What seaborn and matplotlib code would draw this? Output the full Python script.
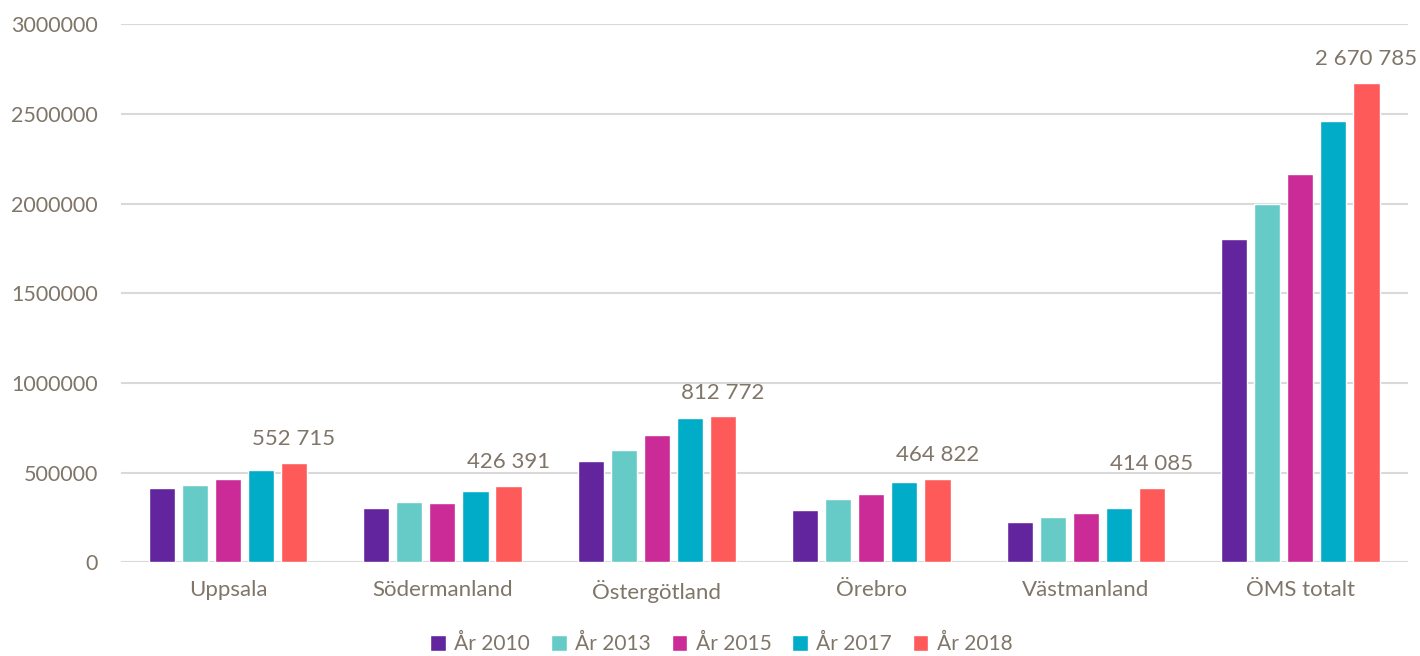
import pandas as pd
import seaborn as sns
import matplotlib.pyplot as plt

# Data
regions = ["Uppsala", "Södermanland", "Östergötland", "Örebro", "Västmanland", "ÖMS totalt"]
years = ["År 2010", "År 2013", "År 2015", "År 2017", "År 2018"]

ar_2010 = [413000, 303000, 564000, 290000, 225000, 1805000]
ar_2013 = [428000, 335000, 624000, 350000, 253000, 1998000]
ar_2015 = [463000, 328000, 712000, 383000, 272000, 2165000]
ar_2017 = [513000, 396000, 804000, 447000, 300000, 2462000]
ar_2018 = [552715, 426391, 812772, 464822, 414085, 2670785]

colors = ["#62259D", "#66CBC7", "#CA2B96", "#00ACC8", "#FF5A5A"]
text_color = "#7F7568"

# Long format for seaborn
series = [ar_2010, ar_2013, ar_2015, ar_2017, ar_2018]
rows = []
for year, vals in zip(years, series):
    for region, v in zip(regions, vals):
        rows.append({"Region": region, "År": year, "Värde": v})
df = pd.DataFrame(rows)

sns.set_style("white")
plt.rcParams["font.family"] = ["Lato", "DejaVu Sans"]

fig = plt.figure(figsize=(14.2, 6.56), dpi=100)
ax = fig.add_axes([0.085, 0.143, 0.9063, 0.82])

sns.barplot(
    data=df, x="Region", y="Värde", hue="År",
    palette=colors, width=0.77, gap=0.21,
    saturation=1, ax=ax, legend=True
)

# Data labels on 2018 bars
labels = [f"{v:,}".replace(",", " ") for v in ar_2018]
ax.bar_label(ax.containers[-1], labels=labels, padding=10,
             fontsize=16, color=text_color)

ax.set_ylim(0, 3000000)
ax.set_xlim(-0.5, len(regions) - 0.5)
ax.set_yticks(range(0, 3000001, 500000))
ax.set_yticklabels([str(t) for t in range(0, 3000001, 500000)])
ax.yaxis.grid(True, color="#D9D9D9", linewidth=1.5)
ax.set_axisbelow(True)
for s in ax.spines.values():
    s.set_visible(False)
ax.tick_params(axis="both", length=0, colors=text_color)
ax.tick_params(axis="y", pad=16.5, labelsize=15.5)
ax.tick_params(axis="x", pad=13, labelsize=16)
ax.set_xlabel("")
ax.set_ylabel("")

handles, lbls = ax.get_legend_handles_labels()
ax.get_legend().remove()
leg = fig.legend(handles, lbls, loc="center", bbox_to_anchor=(0.508, 0.018), ncol=5,
                 frameon=False, fontsize=15, handlelength=0.75, handleheight=0.75,
                 columnspacing=1.0, handletextpad=0.4)
for t in leg.get_texts():
    t.set_color(text_color)

fig.savefig("out.png", dpi=100)
